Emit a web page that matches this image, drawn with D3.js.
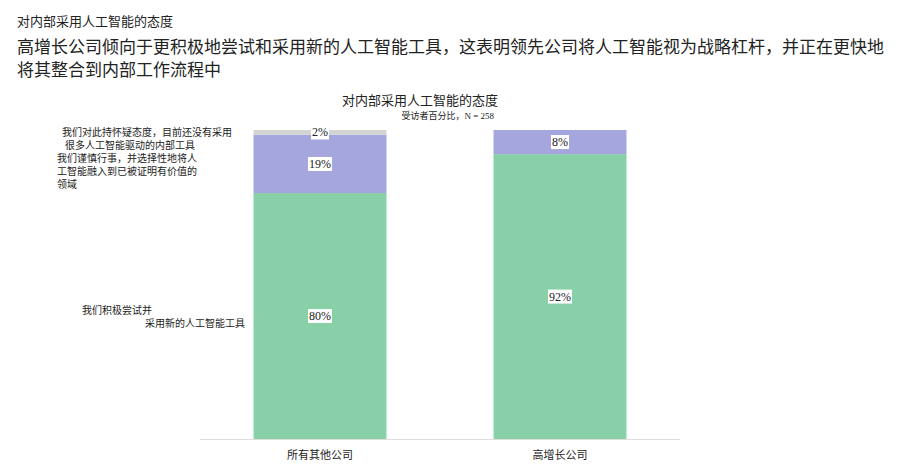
<!DOCTYPE html>
<html>
<head>
<meta charset="utf-8">
<script src="https://cdn.jsdelivr.net/npm/d3@7"></script>
<style>
  body { margin: 0; background: #fff; }
  svg text { font-family: "Liberation Serif", "Noto Sans CJK SC", serif; fill: #222; }
</style>
</head>
<body>
<svg id="chart" width="913" height="464"></svg>
<script>
// data
var categories = ["所有其他公司", "高增长公司"];
var seriesNames = ["active", "cautious", "skeptical"];
var activeVals = [79.6, 92.2];
var cautiousVals = [18.8, 7.8];
var skepticalVals = [1.6, 0];
var pctLabels = [["80%", "19%", "2%"], ["92%", "8%", ""]];
var notes = {
    active: ["我们积极尝试并", "采用新的人工智能工具"],
    cautious: ["我们谨慎行事，并选择性地将人", "工智能融入到已被证明有价值的", "领域"],
    skeptical: ["我们对此持怀疑态度，目前还没有采用", "很多人工智能驱动的内部工具"]
};

var colors = { active: "#88d1a8", cautious: "#a6a6de", skeptical: "#d4d4d4" };

var svg = d3.select("#chart");

// headings
svg.append("text").attr("x", 17).attr("y", 26).attr("font-size", 13)
    .text("对内部采用人工智能的态度");
svg.append("text").attr("x", 17).attr("y", 53).attr("font-size", 17)
    .text("高增长公司倾向于更积极地尝试和采用新的人工智能工具，这表明领先公司将人工智能视为战略杠杆，并正在更快地");
svg.append("text").attr("x", 17).attr("y", 76).attr("font-size", 17)
    .text("将其整合到内部工作流程中");

svg.append("text").attr("x", 420).attr("y", 105).attr("font-size", 13)
    .attr("text-anchor", "middle").text("对内部采用人工智能的态度");
svg.append("text").attr("x", 494).attr("y", 119).attr("font-size", 9)
    .attr("text-anchor", "end").text("受访者百分比，N = 258");

var table = categories.map(function(c, i) {
    return { cat: c, active: activeVals[i], cautious: cautiousVals[i], skeptical: skepticalVals[i], idx: i };
});

var x = d3.scaleBand().domain(categories).range([200, 680]).paddingInner(0.446).paddingOuter(0.223);
var y = d3.scaleLinear().domain([0, 100]).range([439, 130]);

var stack = d3.stack().keys(seriesNames)(table);

var g = svg.append("g");
stack.forEach(function(layer, li) {
    layer.forEach(function(d, i) {
        if (d[1] - d[0] <= 0) return;
        g.append("rect")
            .attr("x", x(categories[i]))
            .attr("y", y(d[1]))
            .attr("width", x.bandwidth())
            .attr("height", y(d[0]) - y(d[1]))
            .attr("fill", colors[layer.key]);
    });
});

// value labels with white boxes
stack.forEach(function(layer, li) {
    layer.forEach(function(d, i) {
        var txt = pctLabels[i][li];
        if (!txt) return;
        var cx = x(categories[i]) + x.bandwidth() / 2;
        var cy = (y(d[0]) + y(d[1])) / 2;
        var t = g.append("text")
            .attr("x", cx).attr("y", cy + 4)
            .attr("font-size", 12)
            .attr("text-anchor", "middle")
            .text(txt);
        var bb = t.node().getBBox();
        g.insert("rect", function() { return t.node(); })
            .attr("x", bb.x - 1).attr("y", cy - 7)
            .attr("width", bb.width + 2).attr("height", 14)
            .attr("fill", "#fff");
    });
});

// axis line and category labels
svg.append("line").attr("x1", 200).attr("x2", 680).attr("y1", 439.5).attr("y2", 439.5)
    .attr("stroke", "#dddddd").attr("stroke-width", 1);
categories.forEach(function(c) {
    svg.append("text")
        .attr("x", x(c) + x.bandwidth() / 2).attr("y", 459)
        .attr("font-size", 11).attr("text-anchor", "middle")
        .text(c);
});

// left notes next to the first bar
var first = {};
stack.forEach(function(layer) { first[layer.key] = (y(layer[0][0]) + y(layer[0][1])) / 2; });

var noteX = { active: [82, 145], cautious: [57, 57, 57], skeptical: [62, 65] };
var noteDy = { active: [-2, 10.5], cautious: [-2, 11, 24], skeptical: [3.5, 17] };
seriesNames.forEach(function(k) {
    notes[k].forEach(function(line, j) {
        svg.append("text")
            .attr("x", noteX[k][j])
            .attr("y", first[k] + noteDy[k][j])
            .attr("font-size", 10)
            .text(line);
    });
});
</script>
</body>
</html>
